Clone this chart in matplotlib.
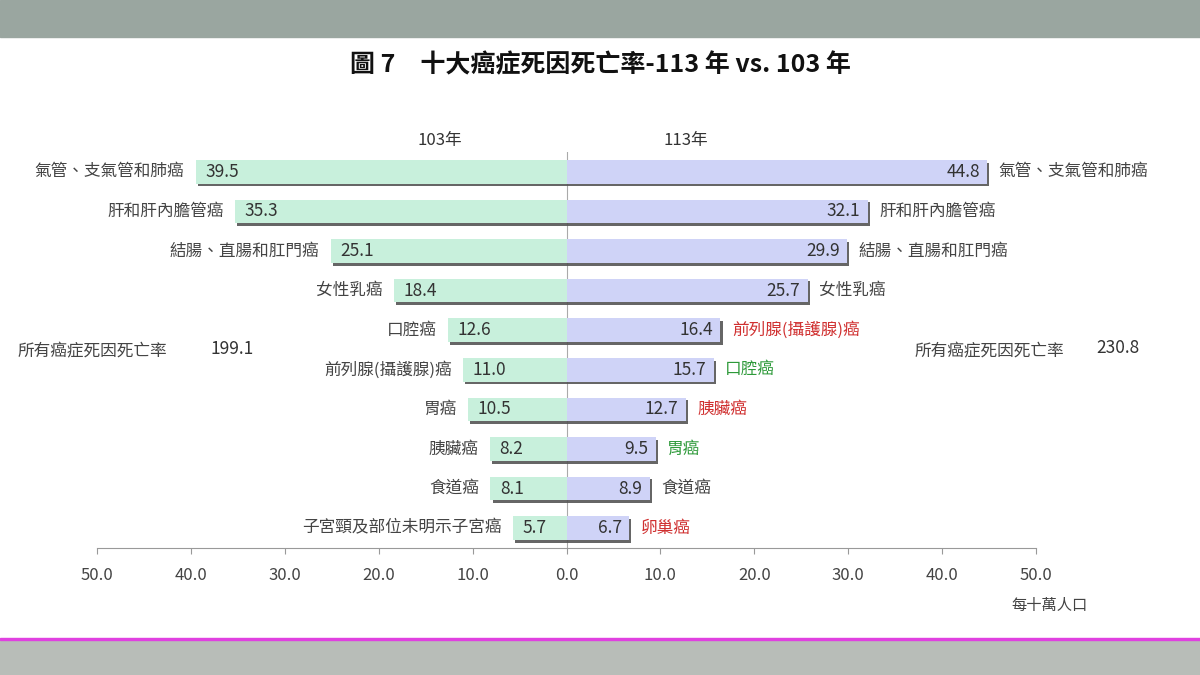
import matplotlib
matplotlib.use("Agg")
import matplotlib.pyplot as plt
import matplotlib.patheffects as pe
from matplotlib.patches import Rectangle

plt.rcParams['font.family'] = ['Noto Sans CJK TC', 'DejaVu Sans']

left_labels = ["氣管、支氣管和肺癌", "肝和肝內膽管癌", "結腸、直腸和肛門癌", "女性乳癌", "口腔癌",
               "前列腺(攝護腺)癌", "胃癌", "胰臟癌", "食道癌", "子宮頸及部位未明示子宮癌"]
left_vals = [39.5, 35.3, 25.1, 18.4, 12.6, 11.0, 10.5, 8.2, 8.1, 5.7]
right_labels = ["氣管、支氣管和肺癌", "肝和肝內膽管癌", "結腸、直腸和肛門癌", "女性乳癌", "前列腺(攝護腺)癌",
                "口腔癌", "胰臟癌", "胃癌", "食道癌", "卵巢癌"]
right_vals = [44.8, 32.1, 29.9, 25.7, 16.4, 15.7, 12.7, 9.5, 8.9, 6.7]
right_colors = ["#444444"] * 4 + ["#d03030", "#2e9a3a", "#d03030", "#2e9a3a", "#444444", "#d03030"]
ticks = [-50, -40, -30, -20, -10, 0, 10, 20, 30, 40, 50]

fig = plt.figure(figsize=(12, 6.75), dpi=100)
fig.patch.set_facecolor("white")
fig.add_artist(Rectangle((0, 1 - 37/675), 1, 37/675, transform=fig.transFigure, color="#9aa6a0", zorder=0))
fig.add_artist(Rectangle((0, 0), 1, 35/675, transform=fig.transFigure, color="#b8bdb8", zorder=0))
fig.add_artist(Rectangle((0, 35/675), 1, 2/675, transform=fig.transFigure, color="#e040e0", zorder=1))

ax = fig.add_axes([97/1200, 1 - 548/675, 939/1200, (548 - 152)/675])
ys = list(range(len(left_vals)))
shadow = [pe.SimplePatchShadow(offset=(1.5, -2), shadow_rgbFace="#555555", alpha=0.9), pe.Normal()]
bl = ax.barh(ys, [-v for v in left_vals], height=0.6, color="#c8f0dc", zorder=2)
br = ax.barh(ys, right_vals, height=0.6, color="#cfd3f7", zorder=2)
for b in list(bl) + list(br):
    b.set_path_effects(shadow)
for y, v, lab in zip(ys, left_vals, left_labels):
    ax.text(-v + 1.0, y, f"{v:.1f}", va="center", ha="left", fontsize=12.5, color="#333333", zorder=3)
    ax.text(-v - 1.2, y, lab, va="center", ha="right", fontsize=12, color="#444444")
for y, v, lab, c in zip(ys, right_vals, right_labels, right_colors):
    ax.text(v - 0.8, y, f"{v:.1f}", va="center", ha="right", fontsize=12.5, color="#333333", zorder=3)
    ax.text(v + 1.2, y, lab, va="center", ha="left", fontsize=12, color=c)
ax.axvline(0, color="#aaaaaa", lw=0.8, zorder=1)
ax.set_xlim(-50, 50)
ax.set_ylim(9.5, -0.5)
ax.set_xticks(ticks)
ax.set_xticklabels([f"{abs(t):.1f}" for t in ticks], fontsize=12, color="#444444")
ax.tick_params(axis="x", direction="out", length=4, color="#999999", pad=10)
ax.set_yticks([])
for s in ["top", "left", "right"]:
    ax.spines[s].set_visible(False)
ax.spines["bottom"].set_color("#999999")
ax.set_facecolor("none")

fig.text(0.5, 1 - 65/675, "圖 7　十大癌症死因死亡率-113 年 vs. 103 年", ha="center", va="center",
         fontsize=18, fontweight="bold", color="#111111")
fig.text(440/1200, 1 - 140/675, "103年", ha="center", va="center", fontsize=12, color="#333333")
fig.text(686/1200, 1 - 140/675, "113年", ha="center", va="center", fontsize=12, color="#333333")
fig.text(18/1200, 1 - 352/675, "所有癌症死因死亡率", ha="left", va="center", fontsize=12, color="#444444")
fig.text(210/1200, 1 - 349/675, "199.1", ha="left", va="center", fontsize=12.5, color="#333333")
fig.text(915/1200, 1 - 352/675, "所有癌症死因死亡率", ha="left", va="center", fontsize=12, color="#444444")
fig.text(1096/1200, 1 - 348/675, "230.8", ha="left", va="center", fontsize=12.5, color="#333333")
fig.text(1050/1200, 1 - 605/675, "每十萬人口", ha="center", va="center", fontsize=11, color="#444444")

fig.savefig("out.png", dpi=100)
